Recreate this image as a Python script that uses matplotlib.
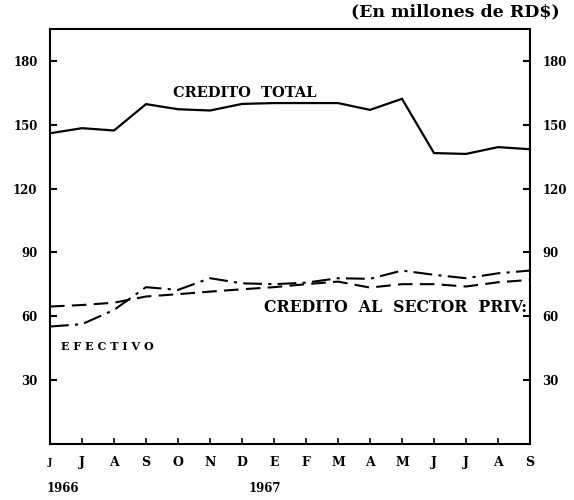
import matplotlib
matplotlib.use("Agg")
import matplotlib.pyplot as plt
import matplotlib.transforms as mtransforms

months = ["J", "J", "A", "S", "O", "N", "D", "E", "F", "M", "A", "M", "J", "J", "A", "S"]
credito_total = [146, 148.4, 147.3, 159.7, 157.3, 156.7, 159.8, 160.2, 160.2, 160.2, 157, 162.2, 136.7, 136.3, 139.5, 138.5]
credito_privado = [64.6, 65.3, 66.4, 69.3, 70.4, 71.6, 72.7, 73.7, 75.1, 76.3, 73.5, 75.1, 75.1, 74, 76, 77.1]
efectivo = [55.2, 56.3, 63, 73.7, 72.4, 77.9, 75.5, 75.1, 75.8, 77.9, 77.6, 81.5, 79.5, 77.9, 80.2, 81.5]
y_ticks = [30, 60, 90, 120, 150, 180]
years = ["1966", "1967"]
year_pos = [0.4, 6.7]

serif = ["DejaVu Serif"]

fig = plt.figure(figsize=(5.74, 5.00), dpi=100)
ax = fig.add_axes([50 / 574, 1 - 444 / 500, 480 / 574, 415 / 500])

x = list(range(len(months)))
ax.plot(x, credito_total, color="black", lw=1.6, solid_joinstyle="miter")
ax.plot(x, credito_privado, color="black", lw=1.5, linestyle=(0, (7, 3.5)))
ax.plot(x, efectivo, color="black", lw=1.5, linestyle=(0, (9, 3, 1.5, 3)))

ax.set_xlim(0, 15)
ax.set_ylim(0, 195)

ax.set_xticks(x[1:-1])
ax.set_xticklabels([])
ax.tick_params(axis="x", direction="in", length=4, width=1.2)
bt = mtransforms.blended_transform_factory(ax.transData, ax.transAxes)
for i, m in enumerate(months):
    ax.text(i, -0.045, m, transform=bt, ha="center", va="center",
            fontsize=9 if i else 6.5, fontweight="bold", family=serif)

ax.set_yticks(y_ticks)
ax.set_yticklabels([str(v) for v in y_ticks], fontsize=8.5, fontweight="bold", family=serif)
ax.tick_params(axis="y", direction="in", length=5, width=1.5, pad=9,
               left=True, right=True, labelleft=True, labelright=True)

for s in ax.spines.values():
    s.set_linewidth(1.5)

for yr, p in zip(years, year_pos):
    ax.text(p, -0.108, yr, transform=bt, ha="center", va="center",
            fontsize=8.5, fontweight="bold", family=serif)

ax.text(6.1, 165, "CREDITO  TOTAL", ha="center", va="center", fontsize=10.5,
        fontweight="bold", family=serif)
ax.text(6.7, 64, "CREDITO  AL  SECTOR  PRIV:", ha="left", va="center", fontsize=11.3,
        fontweight="bold", family=serif)
ax.text(0.35, 46, "E F E C T I V O", ha="left", va="center", fontsize=8,
        fontweight="bold", family=serif)

fig.text(560 / 574, 1 - 12 / 500, "(En millones de RD$)", ha="right", va="center",
         fontsize=12.5, fontweight="bold", family=serif)

fig.savefig("out.png", dpi=100, facecolor="white")
